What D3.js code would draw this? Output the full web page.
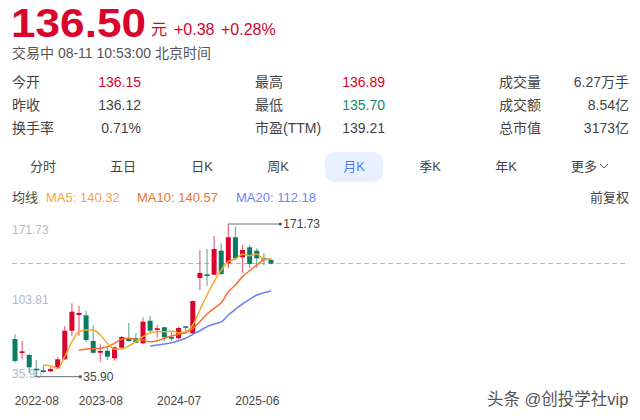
<!DOCTYPE html>
<html><head><meta charset="utf-8">
<script src="https://cdn.jsdelivr.net/npm/d3@7/dist/d3.min.js"></script>
<style>
html,body{margin:0;padding:0;background:#fff;overflow:hidden}
text{font-family:"Liberation Sans","Noto Sans CJK SC",sans-serif}
</style></head><body><svg id="c" width="640" height="420"></svg>
<script>
const months=["2022-05","2022-06","2022-07","2022-08","2022-12","2023-01","2023-02","2023-03","2023-04","2023-05","2023-06","2023-07","2023-08","2023-09","2023-10","2023-11","2023-12","2024-01","2024-02","2024-03","2024-04","2024-05","2024-06","2024-07","2024-08","2024-09","2024-10","2024-11","2024-12","2025-01","2025-02","2025-03","2025-04","2025-05","2025-06","2025-07","2025-08"];
const opens=[69.4,57.0,55.2,43.0,41.6,40.7,43.4,51.4,76.8,90.8,90.5,67.7,57.2,59.0,52.3,61.7,69.4,70.1,65.6,85.7,77.4,79.9,71.2,70.1,80.7,74.5,123.7,127.0,126.6,148.0,136.8,159.9,142.1,151.0,148.0,141.5,139.7];
const closes=[49.9,58.5,44.3,41.9,40.1,42.8,51.4,76.8,93.7,92.6,68.5,57.2,58.8,53.7,62.0,71.2,67.7,66.1,84.8,76.8,79.0,71.0,69.7,79.2,79.5,103.2,128.2,125.5,149.5,127.3,159.9,141.2,148.6,136.2,141.2,139.7,136.5];
const highs=[73.6,67.7,56.1,50.8,46.3,44.8,53.7,81.0,101.2,98.8,94.6,81.9,64.7,62.0,62.6,72.1,83.7,74.8,88.7,89.9,81.9,80.4,75.7,80.4,81.0,103.7,148.6,149.5,161.1,154.6,171.73,169.3,153.0,153.0,150.1,145.7,141.2];
const lows=[48.4,51.4,39.2,35.9,39.2,40.1,42.5,50.8,72.1,72.1,66.8,56.1,49.2,50.8,50.1,61.2,66.8,65.9,64.7,74.5,70.6,67.7,67.9,69.2,73.9,73.9,113.0,116.6,126.4,126.1,132.3,139.7,128.2,132.6,132.6,135.0,135.9];
const ma5=[46.3,45.4,43.4,53.7,67.0,75.9,77.4,77.4,73.0,65.6,60.3,60.5,63.2,67.0,71.5,75.0,75.9,75.9,76.5,75.0,75.9,81.9,95.2,108.6,120.4,130.8,138.2,140.6,144.8,143.5,145.0,140.3,140.32];
const ma10=[59.4,60.5,60.8,61.2,62.6,65.6,69.2,70.1,69.0,68.5,67.0,67.9,70.1,72.1,73.6,75.0,78.9,84.8,91.7,96.7,101.7,111.5,117.5,124.9,130.2,135.2,139.7,140.57];
const ma20=[63.2,64.1,65.0,66.1,67.9,70.1,73.6,76.8,80.4,82.8,84.6,90.8,95.9,100.6,104.7,108.6,110.6,112.18];
const xTicks=["2022-08","2023-08","2024-07","2025-06"];
const yTicks=[171.73,103.81,35.90];
const lastPrice=136.5, maxPrice=171.73, minPrice=35.90;
const tabs=["分时","五日","日K","周K","月K","季K","年K","更多"];
const quoteRows=[
 ["今开","136.15","最高","136.89","成交量","6.27万手"],
 ["昨收","136.12","最低","135.70","成交额","8.54亿"],
 ["换手率","0.71%","市盈(TTM)","139.21","总市值","3173亿"]];
const legendItems=[["MA5: 140.32",46,"#f7a541"],["MA10: 140.57",137,"#f4722b"],["MA20: 112.18",236,"#6f83fb"]];

const RED="#d9042b",GREEN="#0b7b63",TXT="#444",GREY="#b4bcc9";
const svg=d3.select("#c");
function t(x,y,s,o={}){return svg.append("text").attr("x",x).attr("y",y).text(s)
 .attr("font-size",o.size||14).attr("fill",o.fill||TXT).attr("font-weight",o.weight||null).attr("text-anchor",o.anchor||"start");}

// header
t(0,0,"136.50",{size:40.5,fill:RED,weight:"bold"}).attr("transform","translate(11,36.5) scale(1.09,1)");
t(151,35,"元",{size:16,fill:RED});
t(174,35,"+0.38",{size:16,fill:RED});
t(221,35,"+0.28%",{size:16,fill:RED});
t(12,58,"交易中 08-11 10:53:00 北京时间",{size:14,fill:"#555"});
const rowY=[87,110,133];
quoteRows.forEach((r,i)=>{
  t(12,rowY[i],r[0]);
  t(141,rowY[i],r[1],{anchor:"end",fill:i==0?RED:TXT});
  t(255,rowY[i],r[2]);
  t(385,rowY[i],r[3],{anchor:"end",fill:i==0?RED:i==1?"#138a72":TXT});
  t(541,rowY[i],r[4],{anchor:"end"});
  t(629,rowY[i],r[5],{anchor:"end"});
});
// tabs
const tabX=[43,123,202,278,354,430,506,585];
svg.append("rect").attr("x",325).attr("y",152).attr("width",58).attr("height",30).attr("rx",9).attr("fill","#e8f1ff");
tabs.forEach((s,i)=>{
  if(i==7){ t(571,171,s,{size:13,fill:TXT}); return; }
  t(tabX[i],171,s,{size:13,anchor:"middle",fill:i==4?"#4c7dfa":TXT});
});
svg.append("path").attr("d","M600 164l4 4l4 -4").attr("fill","none").attr("stroke","#555");
// legend
t(12,202,"均线",{size:13});
legendItems.forEach(d=>t(d[1],202,d[0],{size:13,fill:d[2]}));
t(629,202,"前复权",{size:13,anchor:"end"});

// chart
const x=d3.scalePoint().domain(months).range([15,271]);
const y=d3.scaleLinear().domain([minPrice,maxPrice]).range([376.7,224]);

yTicks.forEach((v,i)=>t(12,y(v)+[10,3.5,1][i],d3.format(".2f")(v),{size:12,fill:GREY}));
svg.append("line").attr("x1",12).attr("x2",628).attr("y1",y(lastPrice)).attr("y2",y(lastPrice))
 .attr("stroke","#f4a0a0").attr("stroke-dasharray","5,3").attr("shape-rendering","crispEdges");

const xa=svg.append("g").attr("transform","translate(0,392)")
 .call(d3.axisBottom(x).tickValues(xTicks).tickSize(0).tickPadding(4));
xa.select(".domain").remove();
xa.selectAll("text").attr("font-size",12).attr("fill",TXT)
 .style("font-family",'"Liberation Sans",sans-serif');

const data=months.map((m,i)=>({m,o:opens[i],c:closes[i],h:highs[i],l:lows[i]}));
const col=d=>d.c>=d.o?RED:GREEN;
svg.append("g").selectAll("line").data(data).join("line")
 .attr("x1",d=>x(d.m)).attr("x2",d=>x(d.m)).attr("y1",d=>y(d.h)).attr("y2",d=>y(d.l))
 .attr("stroke",col).attr("stroke-opacity",.6).attr("stroke-width",1.2);
svg.append("g").selectAll("rect").data(data).join("rect")
 .attr("x",d=>x(d.m)-2.5).attr("width",5)
 .attr("y",d=>y(Math.max(d.o,d.c)))
 .attr("height",d=>Math.max(1.5,Math.abs(y(d.o)-y(d.c))))
 .attr("fill",col);

const line=(vals)=>{
  const start=months.length-vals.length;
  return d3.line().x((d,i)=>x(months[i+start])).y(d=>y(d)).curve(d3.curveMonotoneX)(vals);
};
[[ma20,"#6481f8"],[ma10,"#f4722b"],[ma5,"#f7a82f"]].forEach(([v,c])=>
 svg.append("path").attr("d",line(v)).attr("fill","none").attr("stroke",c).attr("stroke-width",1.5));

// extreme markers
const hiX=x(months[highs.indexOf(maxPrice)]), loX=x(months[lows.indexOf(minPrice)]);
[[hiX,maxPrice,hiX+52],[loX-2,minPrice,loX+44]].forEach(([a,v,b])=>{
  svg.append("line").attr("x1",a).attr("x2",b).attr("y1",y(v)).attr("y2",y(v)).attr("stroke","#6b6f76").attr("stroke-width",1);
  svg.append("circle").attr("cx",b).attr("cy",y(v)).attr("r",1.6).attr("fill","#555");
  t(b+3,y(v)+4,d3.format(".2f")(v),{size:12,fill:TXT});
});

// watermark
t(487,405,"头条 @创投学社vip",{size:16.5,fill:"#555"});
</script></body></html>
